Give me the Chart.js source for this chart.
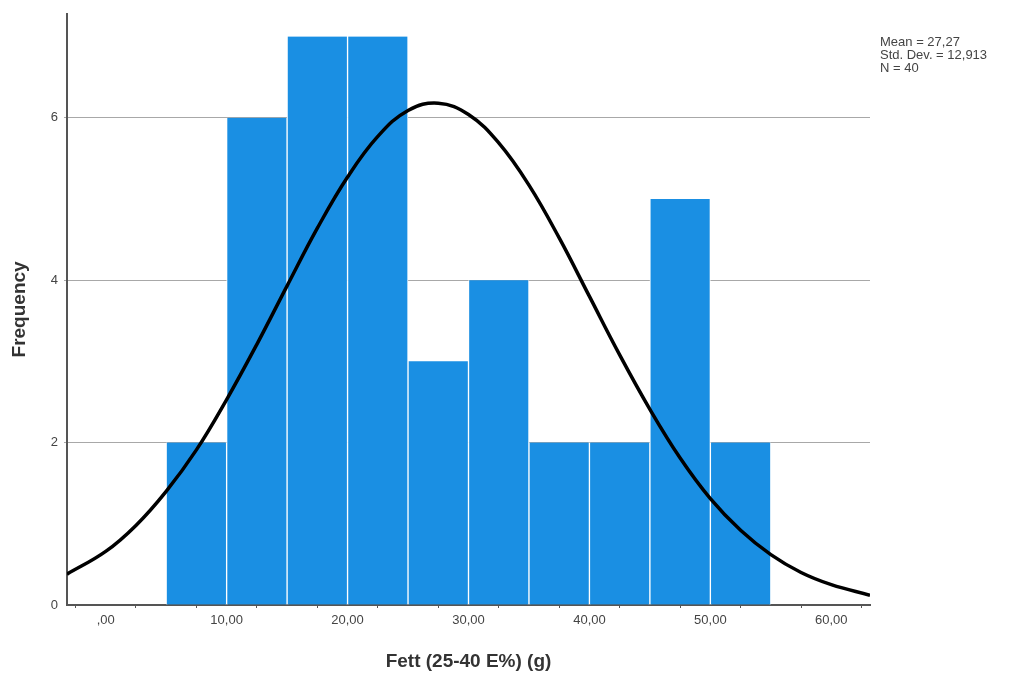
<!DOCTYPE html>
<html lang="en">
<head>
    <meta charset="UTF-8">
    <title>Fett histogram</title>
    <script src="https://cdn.jsdelivr.net/npm/chart.js"></script>
    <style>
        body { margin: 0; background: #fff; }
        .wrap { position: relative; width: 1012px; height: 679px; }
        .stats {
            position: absolute; left: 880px; top: 35px;
            font: 13px "Liberation Sans", Arial, sans-serif; color: #444; line-height: 13px;
        }
    </style>
</head>
<body>
<div class="wrap">
    <canvas id="histChart" width="1012" height="679"></canvas>
    <div class="stats">Mean = 27,27<br>Std. Dev. = 12,913<br>N = 40</div>
</div>
<script>
    // histogram bins (centres, width 5) and counts
    const binCenters = [7.5, 12.5, 17.5, 22.5, 27.5, 32.5, 37.5, 42.5, 47.5, 52.5];
    const binCounts = [2, 6, 7, 7, 3, 4, 2, 2, 5, 2];

    // normal curve (mean 27,27, sd 12,913, N 40)
    const curveX = [-3.2, 0, 2.5, 5, 7.5, 10, 12.5, 15, 17.5, 20, 22.5, 25, 27.5, 30, 32.5, 35, 37.5, 40, 42.5, 45, 47.5, 50, 52.5, 55, 57.5, 60, 63.2];
    const curveY = [0.38, 0.66, 0.98, 1.40, 1.91, 2.53, 3.21, 3.93, 4.64, 5.27, 5.77, 6.09, 6.18, 6.04, 5.69, 5.17, 4.52, 3.80, 3.08, 2.41, 1.81, 1.31, 0.92, 0.62, 0.40, 0.25, 0.12];

    const xTickValues = [0, 5, 10, 15, 20, 25, 30, 35, 40, 45, 50, 55, 60];
    const yTickValues = [0, 2, 4, 6];

    const ctx = document.getElementById("histChart").getContext("2d");

    new Chart(ctx, {
        type: "bar",
        data: {
            datasets: [
                {
                    type: "line",
                    data: curveX.map((x, i) => ({ x: x, y: curveY[i] })),
                    borderColor: "#000",
                    borderWidth: 3.5,
                    pointRadius: 0,
                    tension: 0.4,
                    fill: false
                },
                {
                    type: "bar",
                    data: binCenters.map((x, i) => ({ x: x, y: binCounts[i] })),
                    backgroundColor: "#1a8fe3",
                    borderColor: "#ffffff",
                    borderWidth: { left: 1, right: 1, top: 0, bottom: 0 },
                    borderSkipped: false,
                    barPercentage: 1,
                    categoryPercentage: 1,
                    grouped: false
                }
            ]
        },
        options: {
            responsive: false,
            animation: false,
            layout: { padding: { top: 1, right: 142, bottom: 2, left: 4 } },
            plugins: { legend: { display: false }, tooltip: { enabled: false } },
            scales: {
                x: {
                    type: "linear",
                    min: -3.2,
                    max: 63.2,
                    offset: false,
                    afterBuildTicks: scale => { scale.ticks = xTickValues.map(v => ({ value: v })); },
                    afterFit: scale => { scale.height = 72; },
                    ticks: {
                        autoSkip: false,
                        maxRotation: 0,
                        padding: 5,
                        color: "#444",
                        font: { family: "Liberation Sans", size: 13 },
                        callback: v => (v % 10 === 0 ? (v === 0 ? ",00" : v + ",00") : "")
                    },
                    grid: { drawOnChartArea: false, drawTicks: true, tickLength: 3, color: "#555" },
                    border: { color: "#555", width: 2 },
                    title: {
                        display: true,
                        text: "Fett (25-40 E%) (g)",
                        color: "#333",
                        font: { family: "Liberation Sans", size: 19, weight: "bold" },
                        padding: { top: 14 }
                    }
                },
                y: {
                    min: 0,
                    max: 7.28,
                    afterBuildTicks: scale => { scale.ticks = yTickValues.map(v => ({ value: v })); },
                    afterFit: scale => { scale.width = 63; },
                    ticks: {
                        padding: 6,
                        color: "#444",
                        font: { family: "Liberation Sans", size: 13 }
                    },
                    grid: {
                        color: ctx => (ctx.tick && ctx.tick.value === 0 ? "rgba(0,0,0,0)" : "#a8a8a8"),
                        lineWidth: 1,
                        drawTicks: true,
                        tickLength: 3
                    },
                    border: { color: "#555", width: 2 },
                    title: {
                        display: true,
                        text: "Frequency",
                        color: "#333",
                        font: { family: "Liberation Sans", size: 19, weight: "bold" },
                        padding: { bottom: 8 }
                    }
                }
            }
        }
    });
</script>
</body>
</html>
